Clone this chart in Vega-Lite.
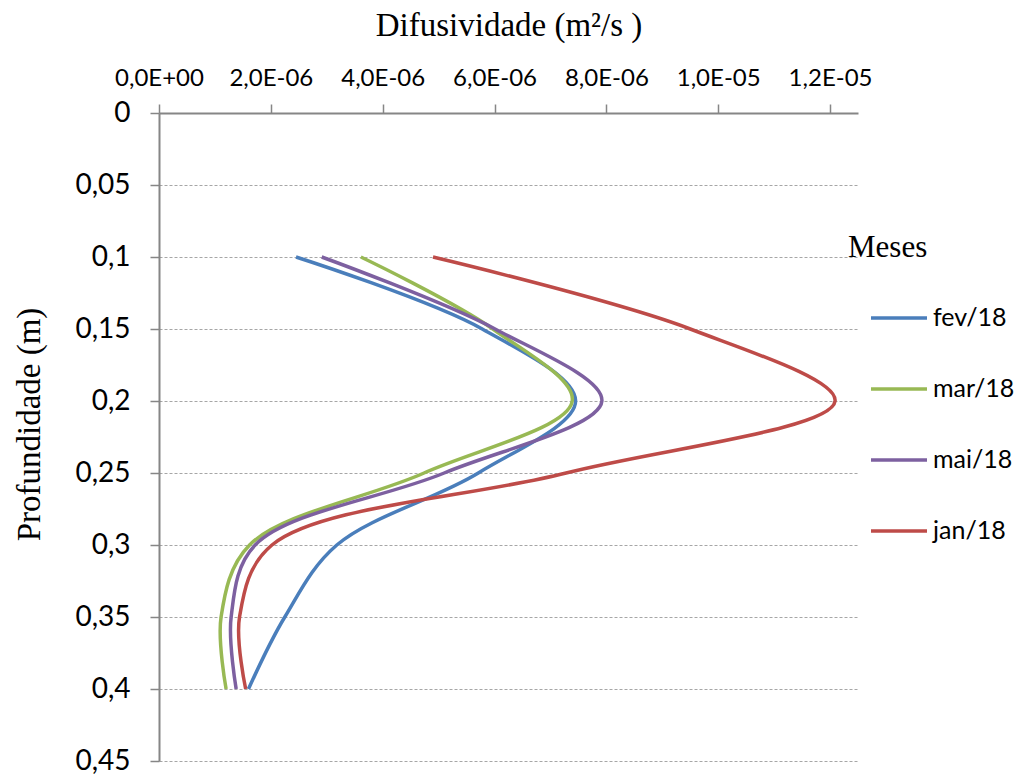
{
  "$schema": "https://vega.github.io/schema/vega-lite/v6.json",
  "autosize": "none",
  "width": 699,
  "height": 648,
  "padding": {"left": 159, "top": 113, "right": 161, "bottom": 15},
  "background": "white",
  "config": {
    "view": {"stroke": null},
    "locale": {"number": {"decimal": ",", "thousands": ".", "grouping": [3], "currency": ["R$", ""]}}
  },
  "data": {
    "values": [
      {"mes": "fev/18", "depth": 0.1, "dif": 2.45e-6},
      {"mes": "fev/18", "depth": 0.15, "dif": 5.78e-6},
      {"mes": "fev/18", "depth": 0.2, "dif": 7.45e-6},
      {"mes": "fev/18", "depth": 0.25, "dif": 5.71e-6},
      {"mes": "fev/18", "depth": 0.3, "dif": 3.18e-6},
      {"mes": "fev/18", "depth": 0.35, "dif": 2.25e-6},
      {"mes": "fev/18", "depth": 0.4, "dif": 1.60e-6},
      {"mes": "mar/18", "depth": 0.1, "dif": 3.61e-6},
      {"mes": "mar/18", "depth": 0.15, "dif": 5.97e-6},
      {"mes": "mar/18", "depth": 0.2, "dif": 7.39e-6},
      {"mes": "mar/18", "depth": 0.25, "dif": 4.74e-6},
      {"mes": "mar/18", "depth": 0.3, "dif": 1.62e-6},
      {"mes": "mar/18", "depth": 0.35, "dif": 1.11e-6},
      {"mes": "mar/18", "depth": 0.4, "dif": 1.20e-6},
      {"mes": "mai/18", "depth": 0.1, "dif": 2.91e-6},
      {"mes": "mai/18", "depth": 0.15, "dif": 6.01e-6},
      {"mes": "mai/18", "depth": 0.2, "dif": 7.92e-6},
      {"mes": "mai/18", "depth": 0.25, "dif": 5.10e-6},
      {"mes": "mai/18", "depth": 0.3, "dif": 1.72e-6},
      {"mes": "mai/18", "depth": 0.35, "dif": 1.29e-6},
      {"mes": "mai/18", "depth": 0.4, "dif": 1.38e-6},
      {"mes": "jan/18", "depth": 0.1, "dif": 4.90e-6},
      {"mes": "jan/18", "depth": 0.15, "dif": 9.50e-6},
      {"mes": "jan/18", "depth": 0.2, "dif": 12.09e-6},
      {"mes": "jan/18", "depth": 0.25, "dif": 7.28e-6},
      {"mes": "jan/18", "depth": 0.3, "dif": 2.02e-6},
      {"mes": "jan/18", "depth": 0.35, "dif": 1.44e-6},
      {"mes": "jan/18", "depth": 0.4, "dif": 1.55e-6}
    ]
  },
  "mark": {"type": "line", "interpolate": "catmull-rom", "strokeWidth": 3.5},
  "encoding": {
    "x": {
      "field": "dif",
      "type": "quantitative",
      "scale": {"domain": [0, 1.25e-5], "nice": false, "zero": true},
      "axis": {
        "orient": "top",
        "title": "Difusividade (m²/s )",
        "titleFont": "Liberation Serif",
        "titleFontSize": 33,
        "titleFontWeight": "normal",
        "titleColor": "black",
        "titlePadding": 24,
        "values": [0, 2e-6, 4e-6, 6e-6, 8e-6, 1e-5, 1.2e-5],
        "labelExpr": "datum.value == 0 ? '0,0E+00' : replace(format(datum.value / pow(10, floor(log(datum.value) / LN10 + 1e-9)), '.1f'), '.', ',') + 'E-' + (-floor(log(datum.value) / LN10 + 1e-9) < 10 ? '0' : '') + (-floor(log(datum.value) / LN10 + 1e-9))",
        "labelFont": "Lato",
        "labelFontSize": 24,
        "labelColor": "black",
        "labelPadding": 14,
        "labelFlush": false,
        "labelOverlap": false,
        "grid": false,
        "domainColor": "#868686",
        "domainWidth": 2,
        "tickColor": "#868686",
        "tickWidth": 1.5,
        "tickSize": 9
      }
    },
    "y": {
      "field": "depth",
      "type": "quantitative",
      "scale": {"domain": [0, 0.45], "reverse": true, "nice": false, "zero": true},
      "axis": {
        "title": "Profundidade (m)",
        "titleFont": "Liberation Serif",
        "titleFontSize": 33,
        "titleFontWeight": "normal",
        "titleColor": "black",
        "titlePadding": 28,
        "titleY": 311,
        "values": [0, 0.05, 0.1, 0.15, 0.2, 0.25, 0.3, 0.35, 0.4, 0.45],
        "format": "~g",
        "labelFont": "Lato",
        "labelFontSize": 28,
        "labelColor": "black",
        "labelPadding": 20,
        "labelFlush": false,
        "labelOverlap": false,
        "grid": true,
        "gridColor": "#A6A6A6",
        "gridDash": [3, 2],
        "gridWidth": 1,
        "domainColor": "#868686",
        "domainWidth": 2,
        "tickColor": "#868686",
        "tickWidth": 1.5,
        "tickSize": 9
      }
    },
    "order": {"field": "depth", "type": "quantitative"},
    "color": {
      "field": "mes",
      "type": "nominal",
      "scale": {
        "domain": ["fev/18", "mar/18", "mai/18", "jan/18"],
        "range": ["#4A7EBB", "#98B954", "#7D60A0", "#BE4B48"]
      },
      "legend": {
        "title": "Meses",
        "orient": "none",
        "legendX": 689,
        "legendY": 120,
        "padding": 0,
        "titleFont": "Liberation Serif",
        "titleFontSize": 31,
        "titleFontWeight": "normal",
        "titleColor": "black",
        "titlePadding": 24,
        "symbolType": "stroke",
        "symbolSize": 3136,
        "symbolStrokeWidth": 3.5,
        "symbolOffset": 21,
        "labelOffset": 4,
        "labelFont": "Lato",
        "labelFontSize": 25,
        "labelColor": "black",
        "rowPadding": 28
      }
    }
  }
}
